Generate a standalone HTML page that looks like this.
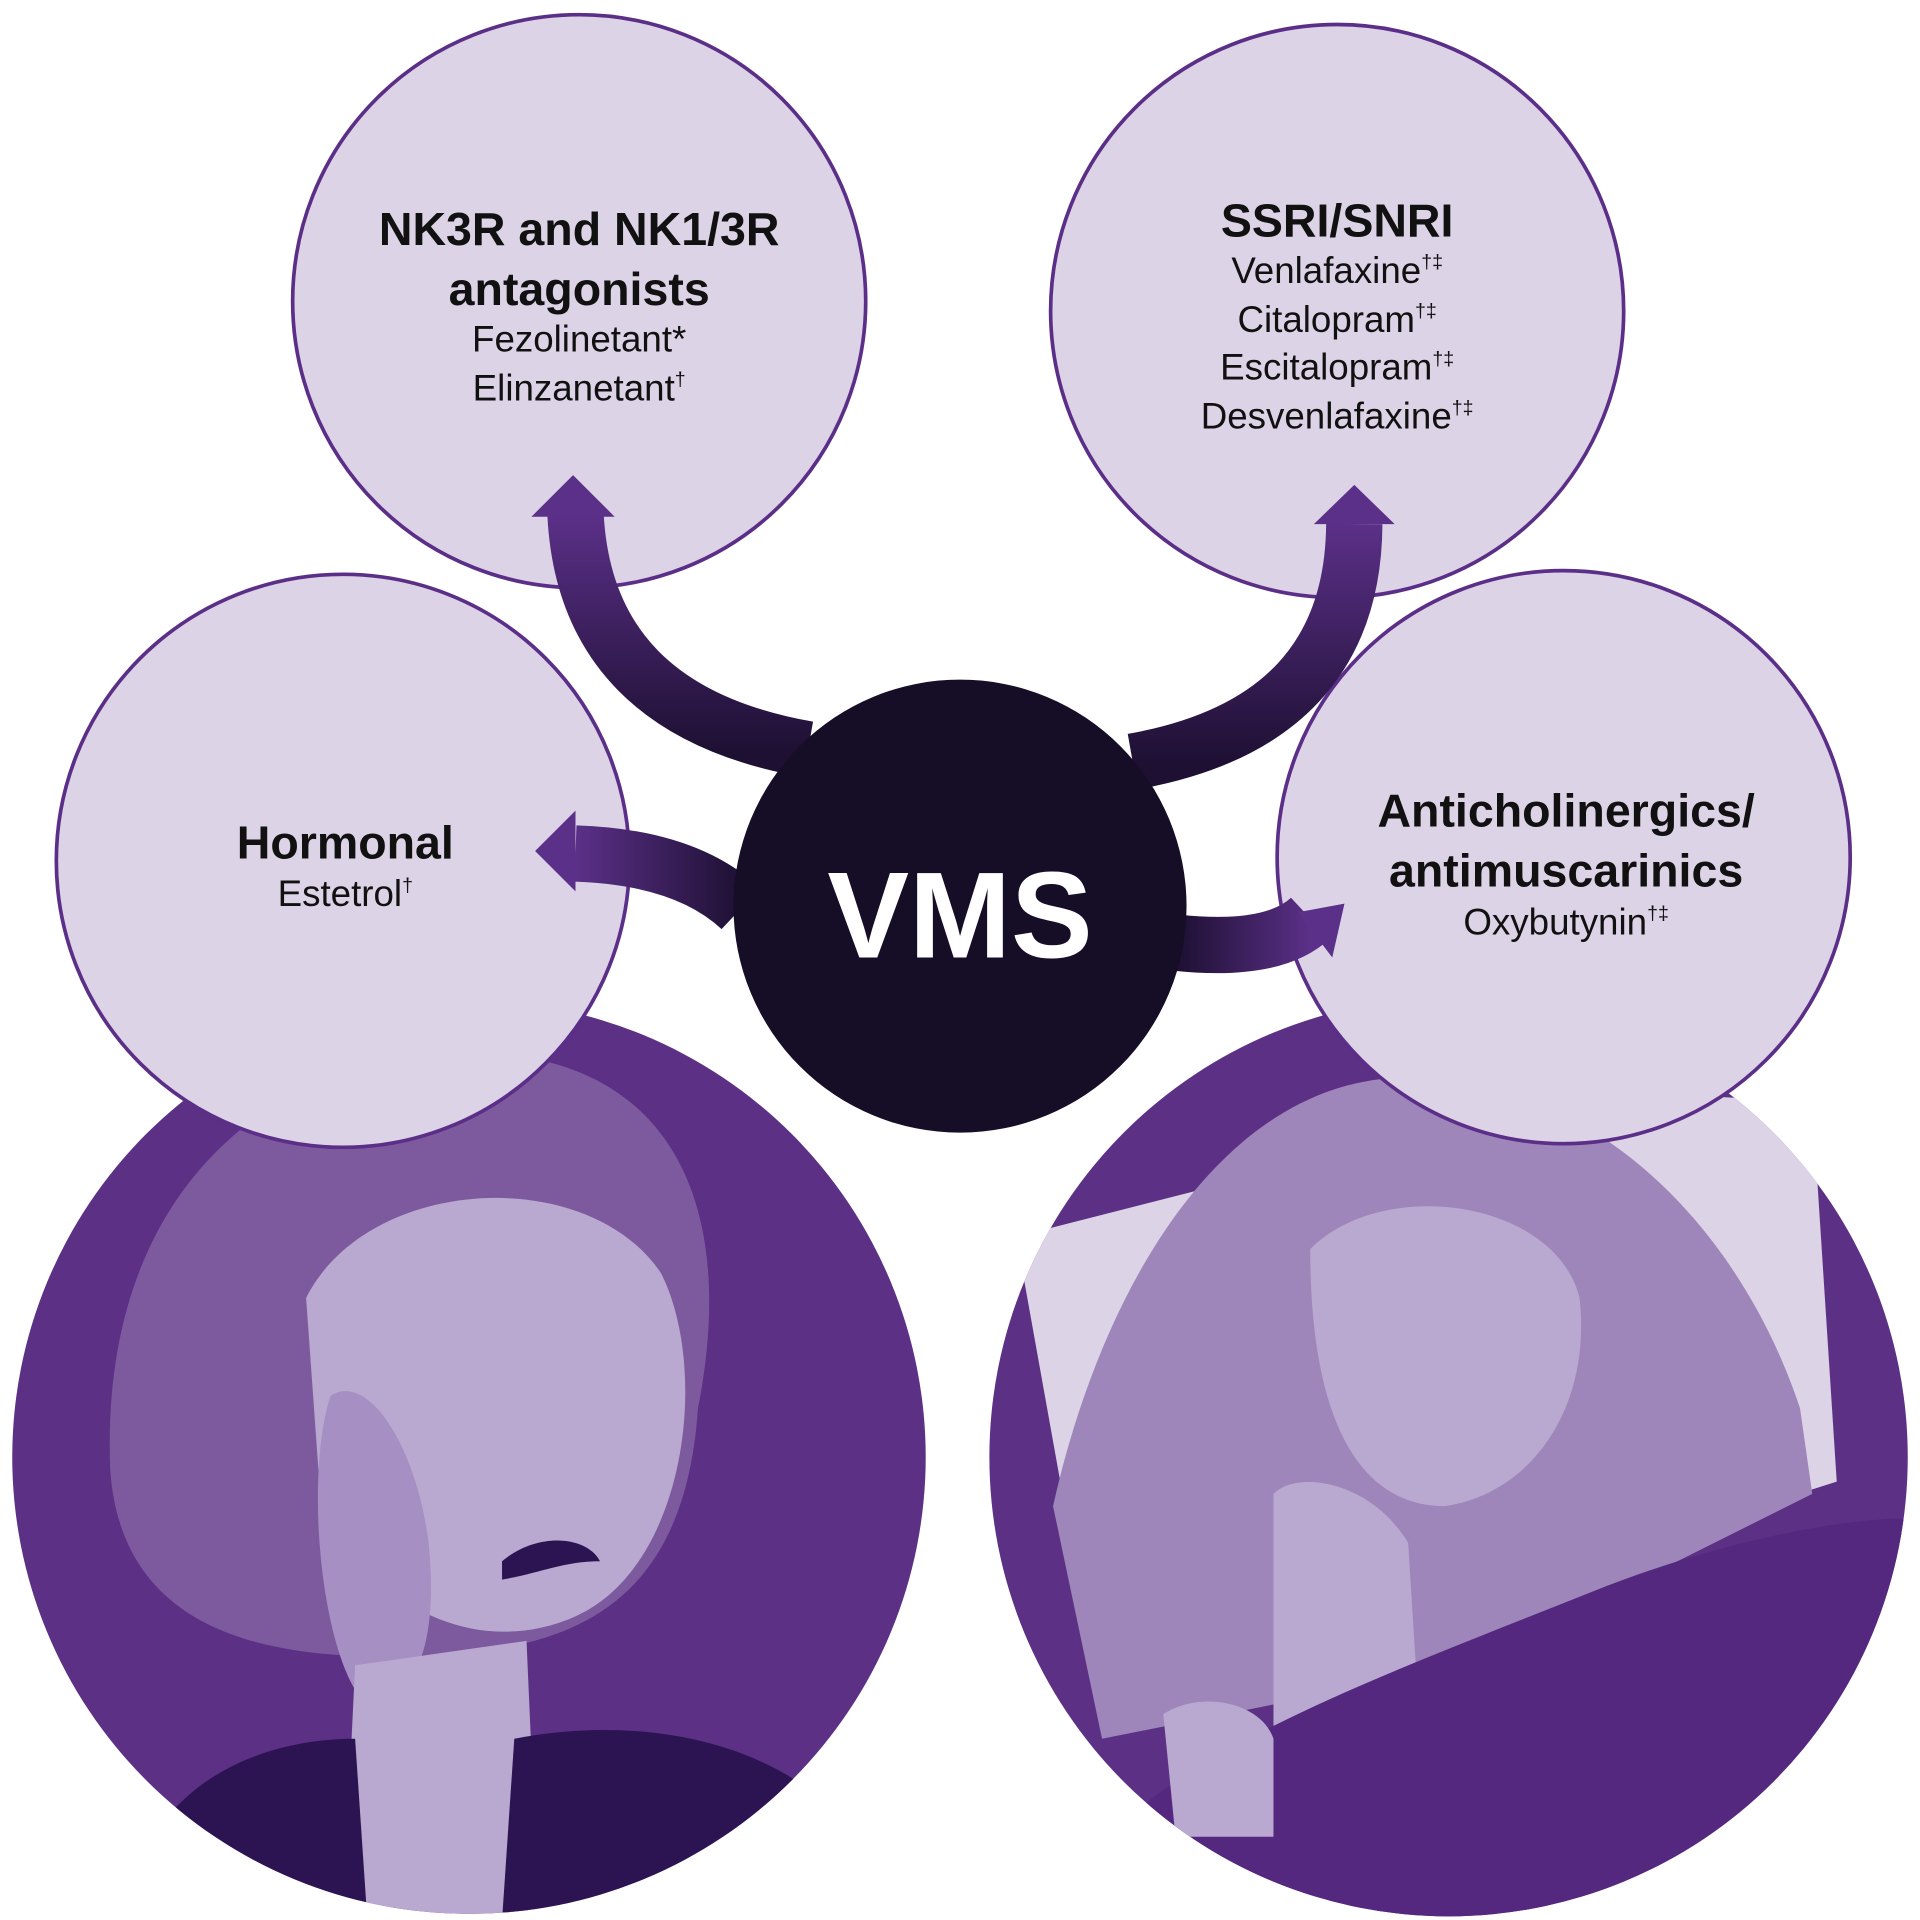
<!DOCTYPE html>
<html><head><meta charset="utf-8"><style>
html,body{margin:0;padding:0;background:#fff}
svg{display:block}
text{font-family:"Liberation Sans",sans-serif}
</style></head><body>
<svg width="1920" height="1920" viewBox="0 0 1568 1568" xmlns="http://www.w3.org/2000/svg">
<defs>
<clipPath id="cl"><circle cx="383" cy="1190" r="373"/></clipPath>
<clipPath id="cr"><circle cx="1183" cy="1190" r="375"/></clipPath>
<linearGradient id="g1" x1="0" y1="1" x2="0" y2="0"><stop offset="0" stop-color="#1e1033"/><stop offset="1" stop-color="#5b3088"/></linearGradient>
<linearGradient id="g2" x1="1" y1="0" x2="0" y2="0"><stop offset="0" stop-color="#1e1033"/><stop offset="1" stop-color="#5b3088"/></linearGradient>
<linearGradient id="g3" x1="0" y1="0" x2="1" y2="0"><stop offset="0" stop-color="#1e1033"/><stop offset="1" stop-color="#5b3088"/></linearGradient>
</defs>
<rect width="1568" height="1568" fill="#fff"/>
<circle cx="383" cy="1190" r="373" fill="#5b3085"/>
<g clip-path="url(#cl)">
<path d="M90,1200 C80,950 250,850 400,860 C560,870 600,1000 570,1150 C560,1300 480,1340 380,1350 C250,1360 100,1350 90,1200Z" fill="#7d5a9e"/>
<path d="M250,1060 C300,960 480,950 540,1040 C580,1120 560,1280 470,1320 C380,1360 280,1300 260,1200Z" fill="#b9a8cf"/>
<path d="M270,1140 C300,1120 340,1180 350,1260 C360,1360 330,1400 290,1380 C260,1330 250,1200 270,1140Z" fill="#a68fc3"/>
<path d="M290,1360 L430,1340 L440,1568 L280,1568Z" fill="#b9a8cf"/>
<path d="M100,1568 C120,1450 220,1420 290,1420 L300,1568Z M420,1420 C520,1400 640,1420 700,1500 L700,1568 L410,1568Z" fill="#2c1452"/>
<path d="M410,1275 C440,1250 480,1255 490,1275 C460,1275 440,1285 410,1290Z" fill="#2c1452"/>
</g>
<circle cx="1183" cy="1190" r="375" fill="#5b3085"/>
<g clip-path="url(#cr)">
<path d="M830,1010 L1300,890 L1480,900 L1500,1210 L900,1400Z" fill="#ddd3e6"/>
<path d="M860,1230 C900,1050 1000,880 1150,880 C1300,880 1420,1000 1470,1150 L1480,1220 L1200,1360 L900,1420Z" fill="#9e86ba"/>
<path d="M1070,1020 C1130,960 1270,980 1290,1060 C1300,1150 1250,1220 1180,1230 C1110,1230 1070,1160 1070,1020Z" fill="#b9a8cf"/>
<path d="M1040,1220 C1060,1200 1120,1210 1150,1260 L1160,1420 L1040,1420Z" fill="#b9a8cf"/>
<path d="M860,1568 C900,1450 1100,1380 1300,1300 C1400,1260 1500,1240 1560,1240 L1560,1568Z" fill="#55287f"/>
<path d="M950,1400 C980,1380 1030,1390 1040,1420 L1040,1500 L960,1500Z" fill="#b9a8cf"/>
</g>
<g fill="#ddd3e6" stroke="#5b2f88" stroke-width="3">
<circle cx="473" cy="246" r="234"/>
<circle cx="1092" cy="254" r="234"/>
<circle cx="280" cy="703" r="234"/>
<circle cx="1277" cy="700" r="234"/>
</g>
<g fill="none" stroke-width="46">
<path d="M660,612 Q478,580 470,420" stroke="url(#g1)"/>
<path d="M925,622 Q1105,590 1106,428" stroke="url(#g1)"/>
<path d="M605,742 Q560,700 470,697" stroke="url(#g2)"/>
<path d="M962,770 Q1040,778 1070,750" stroke="url(#g3)"/>
</g>
<polygon points="468,388 502,422 434,422" fill="#5b3088"/>
<polygon points="1106,396 1139,428 1073,428" fill="#5b3088"/>
<polygon points="437,695 470,662 470,728" fill="#5b3088"/>
<polygon points="1098,738 1088,782 1060,745" fill="#5b3088"/>
<circle cx="784" cy="740" r="185" fill="#160d26"/>
<text x="784" y="782" text-anchor="middle" font-size="100" font-weight="bold" fill="#fff">VMS</text>
<g text-anchor="middle" fill="#111">
<text x="473" y="200" font-size="38" font-weight="bold">NK3R and NK1/3R</text>
<text x="473" y="249" font-size="38" font-weight="bold">antagonists</text>
<text x="473" y="287" font-size="30">Fezolinetant*</text>
<text x="473" y="327" font-size="30">Elinzanetant<tspan font-size="16" dy="-12">†</tspan></text>
<text x="1092" y="193" font-size="38" font-weight="bold">SSRI/SNRI</text>
<text x="1092" y="231" font-size="30">Venlafaxine<tspan font-size="16" dy="-12">†‡</tspan></text>
<text x="1092" y="271" font-size="30">Citalopram<tspan font-size="16" dy="-12">†‡</tspan></text>
<text x="1092" y="310" font-size="30">Escitalopram<tspan font-size="16" dy="-12">†‡</tspan></text>
<text x="1092" y="350" font-size="30">Desvenlafaxine<tspan font-size="16" dy="-12">†‡</tspan></text>
<text x="282" y="701" font-size="38" font-weight="bold">Hormonal</text>
<text x="282" y="740" font-size="30">Estetrol<tspan font-size="16" dy="-12">†</tspan></text>
<text x="1279" y="675" font-size="38" font-weight="bold">Anticholinergics/</text>
<text x="1279" y="724" font-size="38" font-weight="bold">antimuscarinics</text>
<text x="1279" y="763" font-size="30">Oxybutynin<tspan font-size="16" dy="-12">†‡</tspan></text>
</g>
</svg>
</body></html>
